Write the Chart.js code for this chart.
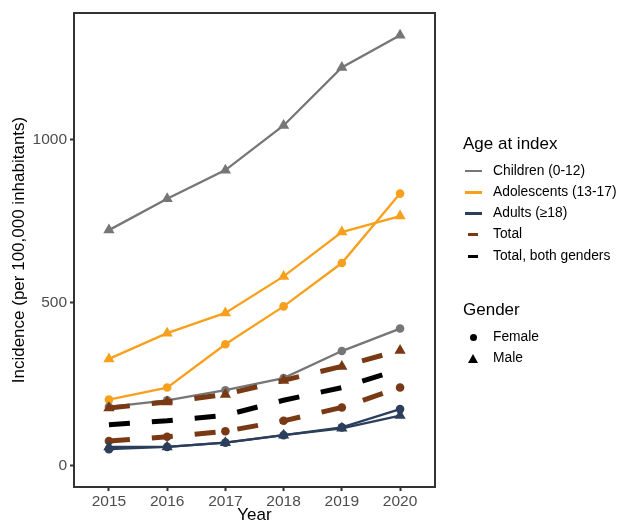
<!DOCTYPE html>
<html>
<head>
<meta charset="utf-8">
<script src="https://cdn.jsdelivr.net/npm/chart.js@4.4.1/dist/chart.umd.min.js"></script>
<style>
  html, body { margin: 0; padding: 0; background: #fff; }
  #wrap { position: relative; width: 618px; height: 526px; font-family: "Liberation Sans", Arial, sans-serif; }
  canvas { position: absolute; left: 0; top: 0; }
  .legend { position: absolute; left: 463px; color: #000; }
  .ltitle { position: absolute; font-size: 17px; white-space: nowrap; }
  .litem { position: absolute; font-size: 13.8px; white-space: nowrap; left: 30px; }
  .key { position: absolute; }
</style>
</head>
<body>
<div id="wrap">
  <canvas id="chart" width="618" height="526"></canvas>
  <div class="legend" id="legend"></div>
</div>
<script>
// Data
const years = [2015, 2016, 2017, 2018, 2019, 2020];
const childrenMale = [722, 818, 906, 1043, 1221, 1320];
const childrenFemale = [180, 200, 231, 268, 351, 420];
const adolescentsMale = [327, 406, 468, 580, 716, 765];
const adolescentsFemale = [202, 239, 372, 488, 621, 834];
const adultsMale = [57, 57, 70, 93, 114, 153];
const adultsFemale = [50, 57, 70, 93, 117, 173];
const totalMale = [176, 195, 218, 261, 304, 353];
const totalFemale = [75, 88, 105, 137, 178, 239];
const totalBoth = [125, 137, 154, 200, 239, 295];
const yTicks = [0, 500, 1000];

const ageGroups = ['Children (0-12)', 'Adolescents (13-17)', 'Adults (\u226518)', 'Total', 'Total, both genders'];
const genders = ['Female', 'Male'];

const colors = {
    children: '#767676',
    adolescents: '#F8A01C',
    adults: '#2B3E5B',
    total: '#783914',
    both: '#000000'
};

function pts(values) {
    return values.map((v, i) => ({ x: years[i], y: v }));
}

function markerRadius(style) {
    return style === 'triangle' ? 6.5 : 4.3;
}

function solidSeries(label, values, color, style) {
    return {
        label: label,
        data: pts(values),
        borderColor: color,
        backgroundColor: color,
        borderWidth: 2.3,
        pointStyle: style,
        pointRadius: markerRadius(style),
        pointBorderWidth: 0,
        tension: 0
    };
}

function dashedSeries(label, values, color, style) {
    return {
        label: label,
        data: pts(values),
        borderColor: color,
        backgroundColor: color,
        borderWidth: 5,
        borderDash: [21, 22],
        pointStyle: style || 'circle',
        pointRadius: style ? markerRadius(style) : 0,
        pointBorderWidth: 0,
        tension: 0
    };
}

const datasets = [
    solidSeries('Adults Female', adultsFemale, colors.adults, 'circle'),
    solidSeries('Adults Male', adultsMale, colors.adults, 'triangle'),
    dashedSeries('Total Female', totalFemale, colors.total, 'circle'),
    dashedSeries('Total Male', totalMale, colors.total, 'triangle'),
    dashedSeries('Total, both genders', totalBoth, colors.both, null),
    solidSeries('Children Female', childrenFemale, colors.children, 'circle'),
    solidSeries('Adolescents Female', adolescentsFemale, colors.adolescents, 'circle'),
    solidSeries('Adolescents Male', adolescentsMale, colors.adolescents, 'triangle'),
    solidSeries('Children Male', childrenMale, colors.children, 'triangle')
];

// draws the full panel border (top/right sides too)
const panelBorder = {
    id: 'panelBorder',
    afterDatasetsDraw(chart) {
        const a = chart.chartArea;
        const ctx = chart.ctx;
        ctx.save();
        ctx.strokeStyle = '#333333';
        ctx.lineWidth = 2;
        ctx.strokeRect(a.left, a.top, a.right - a.left, a.bottom - a.top);
        ctx.restore();
    }
};

const tickFont = { family: '"Liberation Sans", Arial, sans-serif', size: 15.5 };
const titleFont = { family: '"Liberation Sans", Arial, sans-serif', size: 17 };

const ctx = document.getElementById('chart').getContext('2d');
const chart = new Chart(ctx, {
    type: 'line',
    data: { datasets: datasets },
    options: {
        responsive: false,
        animation: false,
        layout: { padding: { left: 0, top: 13, right: 183, bottom: 0 } },
        plugins: {
            legend: { display: false },
            tooltip: { enabled: false }
        },
        scales: {
            x: {
                type: 'linear',
                min: 2014.4,
                max: 2020.6,
                afterBuildTicks: scale => { scale.ticks = years.map(v => ({ value: v })); },
                afterFit: scale => { scale.height = 39; },
                ticks: {
                    color: '#4D4D4D',
                    font: tickFont,
                    padding: 1,
                    maxRotation: 0,
                    callback: v => String(v)
                },
                grid: {
                    drawOnChartArea: false,
                    drawTicks: true,
                    tickLength: 4,
                    tickWidth: 2,
                    color: '#333333'
                },
                border: { display: true, color: '#333333', width: 2 },
                title: {
                    display: true,
                    text: 'Year',
                    color: '#000',
                    font: titleFont,
                    padding: { top: 0, bottom: 0 }
                }
            },
            y: {
                type: 'linear',
                min: -66,
                max: 1388,
                afterBuildTicks: scale => { scale.ticks = yTicks.map(v => ({ value: v })); },
                afterFit: scale => { scale.width = 74; },
                ticks: {
                    color: '#4D4D4D',
                    font: tickFont,
                    padding: 3,
                    callback: v => String(v)
                },
                grid: {
                    drawOnChartArea: false,
                    drawTicks: true,
                    tickLength: 4,
                    tickWidth: 2,
                    color: '#333333'
                },
                border: { display: true, color: '#333333', width: 2 },
                title: {
                    display: true,
                    text: 'Incidence (per 100,000 inhabitants)',
                    color: '#000',
                    font: titleFont,
                    padding: { top: 9, bottom: 0 }
                }
            }
        }
    },
    plugins: [panelBorder]
});

// HTML legend (two groups, like the reference)
const legend = document.getElementById('legend');
const ageColors = [colors.children, colors.adolescents, colors.adults, colors.total, colors.both];
let html = '<div class="ltitle" style="top:134px;left:0">Age at index</div>';
ageGroups.forEach((name, i) => {
    const cy = 171 + i * 21.3;
    const short = i >= 3;
    const w = short ? 10 : 17;
    const h = short ? 3 : 2.5;
    const kx = short ? 5 : 2;
    html += '<div class="key" style="left:' + kx + 'px;top:' + (cy - h / 2) + 'px;width:' + w + 'px;height:' + h + 'px;background:' + ageColors[i] + '"></div>';
    html += '<div class="litem" style="top:' + (cy - 8.5) + 'px">' + name + '</div>';
});
html += '<div class="ltitle" style="top:300px;left:0">Gender</div>';
genders.forEach((name, i) => {
    const cy = 337.5 + i * 21.3;
    if (name === 'Female') {
        html += '<div class="key" style="left:6.5px;top:' + (cy - 3.5) + 'px;width:7px;height:7px;border-radius:50%;background:#000"></div>';
    } else {
        html += '<div class="key" style="left:5px;top:' + (cy - 4.5) + 'px;width:0;height:0;border-left:5px solid transparent;border-right:5px solid transparent;border-bottom:9px solid #000"></div>';
    }
    html += '<div class="litem" style="top:' + (cy - 8.5) + 'px">' + name + '</div>';
});
legend.innerHTML = html;
</script>
</body>
</html>
